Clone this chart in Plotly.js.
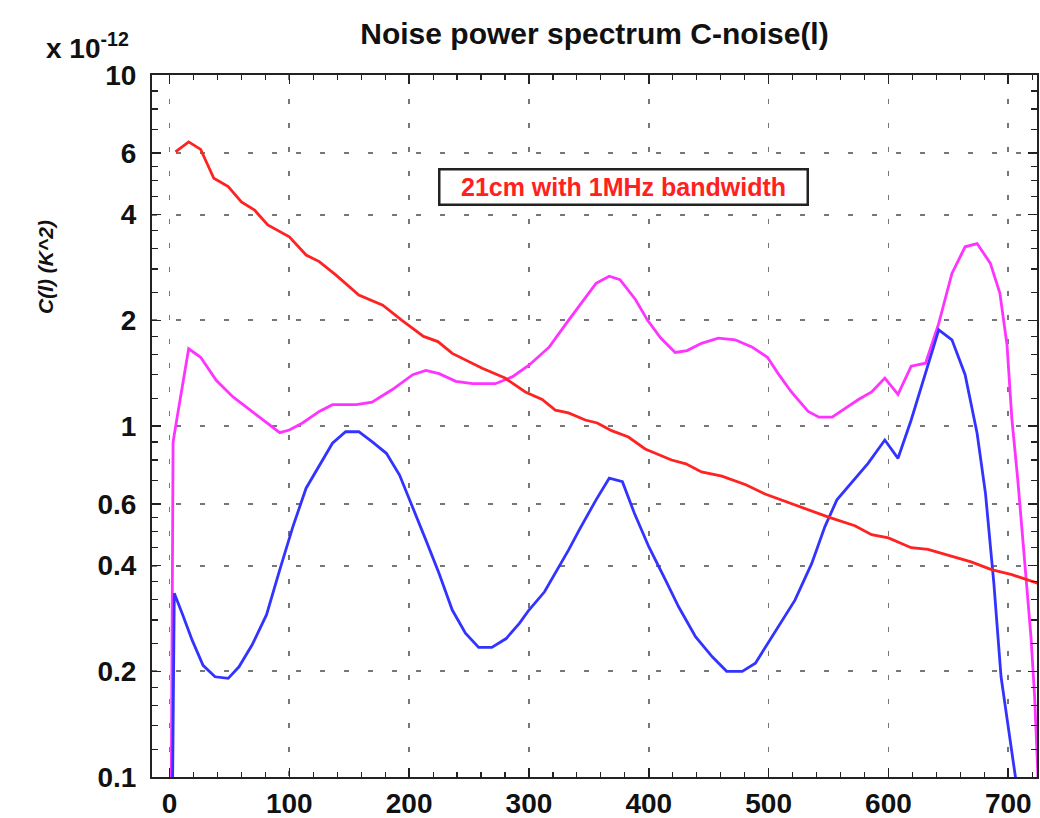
<!DOCTYPE html>
<html>
<head>
<meta charset="utf-8">
<script src="https://cdn.plot.ly/plotly-3.0.1.min.js"></script>
<style>html,body{margin:0;padding:0;background:#fff;}#chart{width:1040px;height:818px;}</style>
</head>
<body>
<div id="chart"></div>
<script>
// multipoles l and C(l) in units of 1e-12 K^2
const redL = [5,16,26,37,49,60,71,82,100,114,125,139,158,178,194,212,224,236,261,280,297,311,322,333,347,357,369,383,397,419,431,444,461,481,497,519,550,572,586,600,619,633,653,669,686,703,725];
const redC = [6.04,6.45,6.14,5.08,4.81,4.35,4.12,3.74,3.46,3.07,2.94,2.69,2.36,2.21,2.00,1.80,1.74,1.61,1.46,1.37,1.25,1.19,1.11,1.09,1.04,1.02,0.97,0.93,0.86,0.80,0.78,0.74,0.72,0.68,0.64,0.60,0.55,0.52,0.49,0.48,0.45,0.445,0.425,0.41,0.39,0.377,0.356];

const magL = [0,3,6,16,26,39,53,69,82,92,100,111,125,136,156,169,186,203,214,225,239,253,272,286,300,317,333,344,356,367,376,389,399,410,422,432,444,458,472,486,499,508,519,533,542,553,564,575,586,597,608,619,631,642,653,664,674,685,693,699,703,708,714,719,722,726];
const magC = [0.01,0.9,1.04,1.66,1.57,1.35,1.21,1.10,1.02,0.957,0.974,1.02,1.10,1.15,1.15,1.17,1.27,1.40,1.44,1.41,1.34,1.32,1.32,1.38,1.49,1.68,2.00,2.25,2.55,2.67,2.61,2.29,2.00,1.78,1.62,1.64,1.72,1.78,1.76,1.68,1.57,1.41,1.25,1.10,1.06,1.06,1.12,1.19,1.25,1.37,1.23,1.48,1.51,1.96,2.72,3.24,3.31,2.91,2.39,1.7,1.05,0.7,0.40,0.25,0.17,0.08];

const blueL = [0,4,11,19,28,38,49,58,69,81,92,103,114,125,136,147,158,169,181,192,203,214,225,236,247,258,269,281,292,300,313,322,333,342,356,367,378,388,400,414,425,439,453,465,478,489,508,522,536,547,557,569,583,597,608,619,631,642,653,664,674,681,688,694,706,712];
const blueC = [0.01,0.334,0.29,0.245,0.208,0.193,0.191,0.206,0.238,0.29,0.389,0.517,0.665,0.774,0.893,0.963,0.963,0.902,0.836,0.725,0.589,0.473,0.38,0.299,0.257,0.234,0.234,0.248,0.274,0.299,0.337,0.38,0.443,0.506,0.616,0.71,0.694,0.564,0.453,0.364,0.305,0.251,0.22,0.2,0.2,0.211,0.268,0.319,0.406,0.517,0.616,0.687,0.783,0.912,0.809,1.04,1.41,1.88,1.76,1.40,0.953,0.643,0.356,0.193,0.1,0.05];

const xTickVals = [0,100,200,300,400,500,600,700];
const yTickVals = [0.1,0.2,0.4,0.6,1,2,4,6,10];
const yTickText = ['0.1','0.2','0.4','0.6','1','2','4','6','10'];
const yMinorVals = [0.12,0.14,0.16,0.18,0.24,0.28,0.32,0.36,0.45,0.5,0.55,0.7,0.8,0.9,1.2,1.4,1.6,1.8,2.4,2.8,3.2,3.6,4.5,5,5.5,7,8,9];

const FONT = 'Liberation Sans, Arial, Helvetica, sans-serif';

const traces = [
  {x: magL, y: magC, mode: 'lines', line: {color: '#ff33ff', width: 2.8}, showlegend: false},
  {x: blueL, y: blueC, mode: 'lines', line: {color: '#3333ff', width: 2.8}, showlegend: false},
  {x: redL, y: redC, mode: 'lines', line: {color: '#ff2222', width: 2.8}, showlegend: false}
];

const axisCommon = {
  showline: true, linecolor: '#222', linewidth: 2, mirror: 'allticks',
  ticks: 'inside', tickcolor: '#222', tickwidth: 1.5, ticklen: 9,
  showgrid: true, gridcolor: '#777', gridwidth: 1.8, griddash: '5px,19px',
  zeroline: false,
  tickfont: {family: FONT, size: 28, color: '#111', weight: 'bold'}
};

const layout = {
  width: 1040, height: 818,
  margin: {l: 152, r: 3, t: 75, b: 41},
  paper_bgcolor: '#fff', plot_bgcolor: '#fff',
  showlegend: false,
  title: {text: 'Noise power spectrum C-noise(l)', x: 0.5, xref: 'paper', xanchor: 'center',
          y: 1 - 33/818, yref: 'container', yanchor: 'middle',
          font: {family: FONT, size: 30, color: '#111', weight: 'bold'}},
  xaxis: Object.assign({}, axisCommon, {
    range: [-14.6, 724], tickmode: 'array', tickvals: xTickVals,
    ticklabelstandoff: 0,
    minor: {dtick: 20, tick0: 0, ticks: 'inside', ticklen: 5, tickcolor: '#222', tickwidth: 1.2, showgrid: false}
  }),
  yaxis: Object.assign({}, axisCommon, {
    type: 'log', range: [-1, 1], tickmode: 'array', tickvals: yTickVals, ticktext: yTickText,
    ticklabelstandoff: 8,
    minor: {tickmode: 'array', tickvals: yMinorVals, ticks: 'inside', ticklen: 6, tickcolor: '#222', tickwidth: 1.2, showgrid: false}
  }),
  annotations: [
    {text: '21cm with 1MHz bandwidth', xref: 'paper', yref: 'paper',
     x: (623-152)/885, y: (777-187)/702, xanchor: 'center', yanchor: 'middle', showarrow: false,
     font: {family: FONT, size: 25, color: '#ff2020', weight: 'bold'},
     bgcolor: '#fff', bordercolor: '#222', borderwidth: 2.5, borderpad: 2, width: 362, height: 29},
    {text: 'x 10<sup>-12</sup>', xref: 'paper', yref: 'paper',
     x: (87-152)/885, y: (777-46)/702, xanchor: 'center', yanchor: 'middle', showarrow: false,
     font: {family: FONT, size: 28, color: '#111', weight: 'bold'}},
    {text: 'C(l) (K^2)', xref: 'paper', yref: 'paper', textangle: -90,
     x: (45-152)/885, y: (777-267)/702, xanchor: 'center', yanchor: 'middle', showarrow: false,
     font: {family: FONT, size: 21, color: '#111', weight: 'bold', style: 'italic'}}
  ]
};

Plotly.newPlot('chart', traces, layout, {displayModeBar: false, staticPlot: true});
</script>
</body>
</html>
